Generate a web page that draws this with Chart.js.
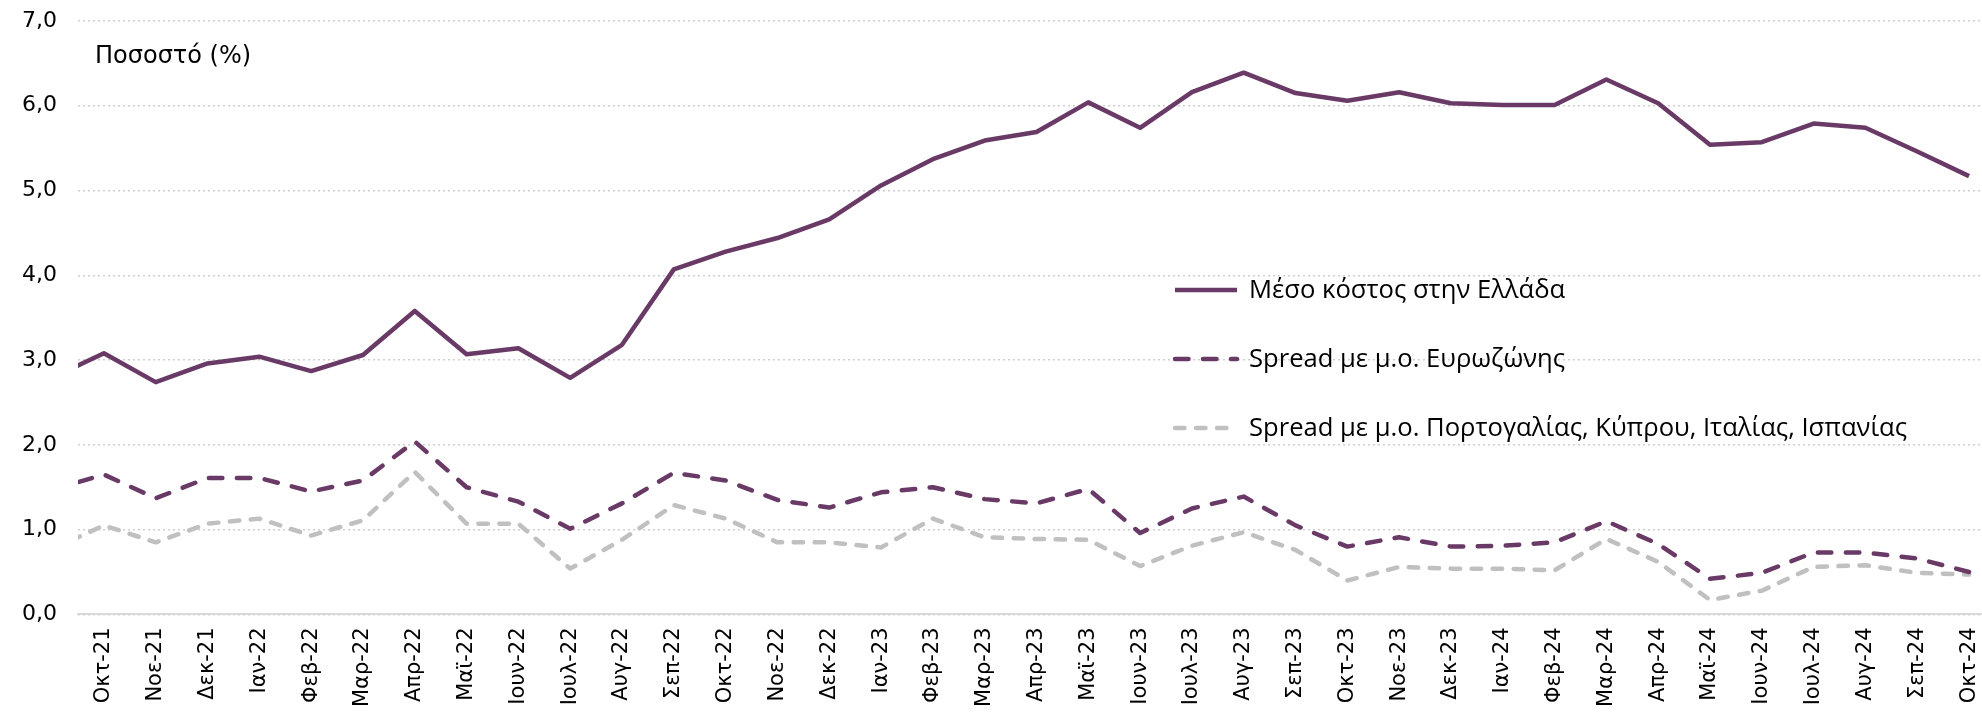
<!DOCTYPE html>
<html lang="el">
<head>
<meta charset="utf-8">
<title>Κόστος δανεισμού</title>
<script src="https://cdn.jsdelivr.net/npm/chart.js@4.4.1/dist/chart.umd.min.js"></script>
<style>
  html, body { margin: 0; padding: 0; background: #fff; }
  #wrap { width: 1982px; height: 725px; position: relative; }
</style>
</head>
<body>
<div id="wrap"><canvas id="chart"></canvas></div>
<script>
// ο πρώτος μήνας (Σεπ-21) μένει μισός έξω από το γράφημα, όπως στο πρωτότυπο
const months = [
  'Σεπ-21', 'Οκτ-21', 'Νοε-21', 'Δεκ-21',
  'Ιαν-22', 'Φεβ-22', 'Μαρ-22', 'Απρ-22', 'Μαϊ-22', 'Ιουν-22', 'Ιουλ-22', 'Αυγ-22', 'Σεπ-22', 'Οκτ-22', 'Νοε-22', 'Δεκ-22',
  'Ιαν-23', 'Φεβ-23', 'Μαρ-23', 'Απρ-23', 'Μαϊ-23', 'Ιουν-23', 'Ιουλ-23', 'Αυγ-23', 'Σεπ-23', 'Οκτ-23', 'Νοε-23', 'Δεκ-23',
  'Ιαν-24', 'Φεβ-24', 'Μαρ-24', 'Απρ-24', 'Μαϊ-24', 'Ιουν-24', 'Ιουλ-24', 'Αυγ-24', 'Σεπ-24', 'Οκτ-24'
];

const greeceCost = [
  2.79, 3.08, 2.74, 2.96,
  3.04, 2.87, 3.06, 3.58, 3.07, 3.14, 2.79, 3.18, 4.07, 4.28, 4.44, 4.66,
  5.06, 5.37, 5.59, 5.69, 6.04, 5.74, 6.16, 6.39, 6.15, 6.06, 6.16, 6.03,
  6.01, 6.01, 6.31, 6.03, 5.54, 5.57, 5.79, 5.74, 5.46, 5.17
];

const spreadEurozone = [
  1.47, 1.65, 1.37, 1.61,
  1.61, 1.45, 1.58, 2.04, 1.50, 1.33, 1.01, 1.31, 1.67, 1.58, 1.35, 1.26,
  1.44, 1.50, 1.36, 1.31, 1.48, 0.96, 1.25, 1.39, 1.05, 0.80, 0.91, 0.80,
  0.81, 0.85, 1.10, 0.83, 0.42, 0.49, 0.73, 0.73, 0.66, 0.50
];

const spreadSouth = [
  0.77, 1.05, 0.85, 1.07,
  1.13, 0.93, 1.11, 1.68, 1.07, 1.07, 0.54, 0.88, 1.29, 1.13, 0.85, 0.85,
  0.79, 1.13, 0.91, 0.89, 0.88, 0.57, 0.81, 0.97, 0.76, 0.40, 0.56, 0.54,
  0.54, 0.52, 0.89, 0.62, 0.17, 0.28, 0.56, 0.58, 0.49, 0.47
];

const seriesNames = [
  'Μέσο κόστος στην Ελλάδα',
  'Spread με μ.ο. Ευρωζώνης',
  'Spread με μ.ο. Πορτογαλίας, Κύπρου, Ιταλίας, Ισπανίας'
];
const axisTitle = 'Ποσοστό (%)';

const purple = '#6a3a67';
const grey = '#c0c0c0';

const toPoints = arr => arr.map((v, i) => ({ x: i, y: v }));

// τίτλος άξονα και υπόμνημα μέσα στην περιοχή του γραφήματος
const overlay = {
  id: 'overlay',
  afterDatasetsDraw(chart) {
    const { ctx, chartArea } = chart;
    ctx.save();
    ctx.fillStyle = '#000';
    ctx.textBaseline = 'middle';
    ctx.font = '24px "DejaVu Sans"';
    ctx.fillText(axisTitle, chartArea.left + 17, chartArea.top + 36);

    const lx = chartArea.left + 1095;
    const ly = chartArea.top + 269;
    ctx.font = '25.6px "Liberation Sans Narrow", "Open Sans"';
    chart.data.datasets.forEach((ds, i) => {
      const y = ly + i * 69;
      ctx.beginPath();
      ctx.setLineDash(ds.borderDash || []);
      ctx.lineCap = ds.borderCapStyle || 'butt';
      ctx.strokeStyle = ds.borderColor;
      ctx.lineWidth = ds.borderWidth;
      ctx.moveTo(lx + 2, y);
      ctx.lineTo(lx + 64, y);
      ctx.stroke();
      ctx.setLineDash([]);
      ctx.fillText(ds.label, lx + 76, y + 1);
    });
    ctx.restore();
  }
};

const ctx = document.getElementById('chart').getContext('2d');
new Chart(ctx, {
  type: 'line',
  data: {
    datasets: [
      {
        label: seriesNames[0],
        data: toPoints(greeceCost),
        borderColor: purple,
        borderWidth: 4.5
      },
      {
        label: seriesNames[1],
        data: toPoints(spreadEurozone),
        borderColor: purple,
        borderWidth: 4.5,
        borderCapStyle: 'round',
        borderDash: [13.5, 14.5]
      },
      {
        label: seriesNames[2],
        data: toPoints(spreadSouth),
        borderColor: grey,
        borderWidth: 4.5,
        borderCapStyle: 'round',
        borderDash: [9.5, 11.5]
      }
    ]
  },
  options: {
    responsive: true,
    maintainAspectRatio: false,
    animation: false,
    layout: { padding: { left: 16, right: 0, top: 0, bottom: 5 } },
    elements: {
      point: { radius: 0 },
      line: { tension: 0, borderJoinStyle: 'round' }
    },
    plugins: {
      legend: { display: false },
      tooltip: { enabled: false }
    },
    scales: {
      x: {
        type: 'linear',
        min: 0.5,
        max: 37.25,
        afterBuildTicks: axis => {
          axis.ticks = months.map((m, i) => ({ value: i })).slice(1);
        },
        afterFit: axis => {
          axis.paddingLeft = 0;
          axis.paddingRight = 0;
        },
        ticks: {
          autoSkip: false,
          minRotation: 90,
          maxRotation: 90,
          padding: 13,
          color: '#000',
          font: { family: 'DejaVu Sans', size: 21 },
          callback: v => months[v]
        },
        grid: { display: false, drawTicks: false },
        border: { display: true, color: '#d9d9d9', width: 2 }
      },
      y: {
        min: 0,
        max: 7,
        afterFit: axis => {
          axis.width = 62;
          axis.paddingTop = 21;
        },
        ticks: {
          stepSize: 1,
          padding: 21,
          color: '#000',
          font: { family: 'DejaVu Sans', size: 22 },
          callback: v => v.toFixed(1).replace('.', ',')
        },
        grid: { color: '#cfcfcf', lineWidth: 1.5, drawTicks: false },
        border: { display: false, dash: [2, 3] }
      }
    }
  },
  plugins: [overlay]
});
</script>
</body>
</html>
